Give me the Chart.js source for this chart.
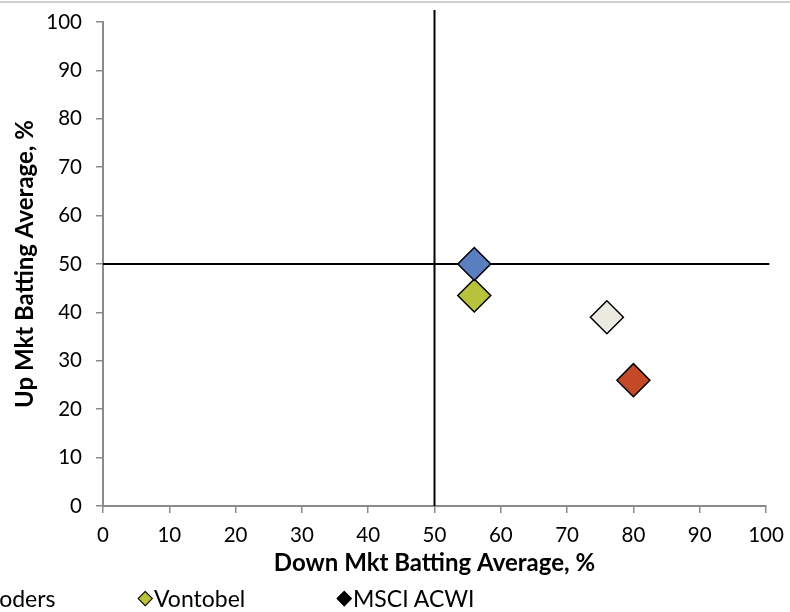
<!DOCTYPE html>
<html><head><meta charset="utf-8">
<script src="https://cdn.jsdelivr.net/npm/chart.js@4"></script>
<style>
html,body{margin:0;padding:0;background:#fff;overflow:hidden;width:790px;height:612px;}
#wrap{position:relative;width:790px;height:612px;overflow:hidden;}
#c{position:absolute;left:0;top:0;}
#topline{position:absolute;left:0;top:1px;width:790px;height:2px;background:#cfcfcf;}
#legend{position:absolute;left:0;top:0;width:790px;height:612px;pointer-events:none;font-family:Lato,'Noto Sans',sans-serif;font-size:23px;color:#000;}
.li{position:absolute;top:587px;height:22px;line-height:22px;white-space:nowrap;}
.mk{position:absolute;top:6px;width:10.5px;height:10.5px;transform:rotate(45deg);border:1px solid #000;box-sizing:border-box;}
.tx{position:absolute;left:9px;top:0;}
</style></head>
<body><div id="wrap"><canvas id="c" width="790" height="612"></canvas><div id="topline"></div><div id="legend"></div></div>
<script>
// ---- data ----
const xAxisTitle = 'Down Mkt Batting Average, %';
const yAxisTitle = 'Up Mkt Batting Average, %';
const seriesNames = ['Schroders', 'Vontobel', 'Series 3', 'Series 4'];
const seriesColors = ['#5b7ec0', '#b9c23d', '#ebeae0', '#c44a27'];
const downBatting = [56, 56, 76, 80];
const upBatting = [50, 43.5, 39, 26];
const benchmarkName = 'MSCI ACWI';
const benchmarkColor = '#000000';
const verticalLineX = [50, 50];
const verticalLineY = [0, 102.5];
const horizontalLineX = [0, 100.5];
const horizontalLineY = [50, 50];
const axisMin = 0, axisMax = 100, axisStep = 10;
const legendNames = ['Schroders', 'Vontobel', 'MSCI ACWI'];
const legendColors = ['#5b7ec0', '#b9c23d', '#000000'];

// ---- datasets ----
const datasets = [];
downBatting.forEach((x, i) => {
  datasets.push({
    type: 'scatter',
    label: seriesNames[i],
    data: [{x: x, y: upBatting[i]}],
    pointStyle: 'rectRot',
    pointRadius: 16.5,
    pointHoverRadius: 16.5,
    backgroundColor: seriesColors[i],
    borderColor: '#000',
    borderWidth: 1.5,
    order: 1
  });
});
datasets.push({
  type: 'line',
  label: benchmarkName + ' vertical',
  data: verticalLineX.map((x, i) => ({x: x, y: verticalLineY[i]})),
  borderColor: benchmarkColor,
  borderWidth: 2,
  pointRadius: 0,
  fill: false,
  clip: false,
  order: 2
});
datasets.push({
  type: 'line',
  label: benchmarkName + ' horizontal',
  data: horizontalLineX.map((x, i) => ({x: x, y: horizontalLineY[i]})),
  borderColor: benchmarkColor,
  borderWidth: 2,
  pointRadius: 0,
  fill: false,
  clip: false,
  order: 2
});

const tickFont = {family: 'Lato', size: 20.5};
const titleFont = {family: 'Lato', size: 24, weight: 'bold'};
const axisGray = '#8a8a8a';

new Chart(document.getElementById('c'), {
  type: 'scatter',
  data: {datasets: datasets},
  options: {
    responsive: false,
    animation: false,
    events: [],
    layout: {padding: {left: 4, right: 24, top: 22, bottom: 34}},
    plugins: {legend: {display: false}, tooltip: {enabled: false}},
    scales: {
      x: {
        type: 'linear', min: axisMin, max: axisMax,
        ticks: {stepSize: axisStep, font: tickFont, color: '#000', padding: 10},
        grid: {drawOnChartArea: false, drawTicks: true, tickLength: 7, color: axisGray, lineWidth: 1.5},
        border: {display: true, color: axisGray, width: 2},
        title: {display: true, text: xAxisTitle, font: titleFont, color: '#000', padding: {top: 0, bottom: 0}},
        afterFit: (s) => { s.height = 72; s.paddingRight = 0; s.paddingLeft = 0; }
      },
      y: {
        type: 'linear', min: axisMin, max: axisMax,
        ticks: {stepSize: axisStep, font: tickFont, color: '#000', padding: 14},
        grid: {drawOnChartArea: false, drawTicks: true, tickLength: 7, color: axisGray, lineWidth: 1.5},
        border: {display: true, color: axisGray, width: 2},
        title: {display: true, text: yAxisTitle, font: titleFont, color: '#000', padding: {top: 6.5, bottom: 0}},
        afterFit: (s) => { s.width = 99; s.paddingTop = 0; s.paddingBottom = 0; }
      }
    }
  }
});

// ---- HTML legend (left part cut off, as in the reference) ----
const legendEl = document.getElementById('legend');
const legendFirstCenter = -54, legendSpacing = 199;
legendNames.forEach((name, i) => {
  const item = document.createElement('div');
  item.className = 'li';
  item.style.left = (legendFirstCenter + i * legendSpacing) + 'px';
  const mk = document.createElement('span');
  mk.className = 'mk';
  mk.style.left = '-5.25px';
  mk.style.background = legendColors[i];
  const tx = document.createElement('span');
  tx.className = 'tx';
  tx.textContent = name;
  item.appendChild(mk);
  item.appendChild(tx);
  legendEl.appendChild(item);
});
</script>
</body></html>
